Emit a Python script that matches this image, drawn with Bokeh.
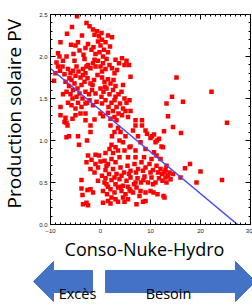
import math
from bokeh.plotting import figure
from bokeh.models import Range1d, LinearAxis, FixedTicker, NumeralTickFormatter
from bokeh.layouts import column, row
from bokeh.embed import file_html
from bokeh.resources import INLINE
from bokeh.core.properties import value

# ---------------- data ----------------
upper_pts = [
    (-4.7, 2.48), (-2.8, 2.40), (-2.2, 2.36), (-5.7, 2.35), (-6.7, 2.27), (-1.5, 2.32), (-0.7, 2.30),
    (-1.2, 2.26), (-0.3, 2.24), (0.2, 2.28), (2.3, 2.23), (-8.0, 2.17), (-4.5, 2.17), (-5.0, 2.13),
    (-5.9, 2.14), (-4.2, 2.07), (-5.4, 2.03), (-8.5, 2.04), (-8.2, 2.00), (-3.4, 2.02), (-1.8, 2.08),
    (-1.4, 2.11), (-1.0, 2.03), (0.0, 2.13), (0.7, 2.08), (1.0, 2.17), (-0.2, 2.05), (-2.5, 2.15),
    (-3.0, 2.10), (-0.5, 2.18), (0.5, 2.00), (1.5, 2.05), (3.0, 1.96), (3.7, 1.92), (4.3, 1.98),
    (4.8, 1.90), (5.2, 1.95), (5.7, 1.90), (6.0, 1.76), (-8.5, 1.88), (-7.6, 1.88), (-8.1, 1.83),
    (-7.2, 1.79), (-6.5, 1.85), (-6.0, 1.80), (-5.5, 1.83), (-5.0, 1.77), (-4.4, 1.82), (-4.0, 1.75),
    (-3.5, 1.85), (-3.0, 1.80), (-2.5, 1.90), (-2.0, 1.86), (-1.5, 1.92), (-1.0, 1.88), (-0.5, 1.95),
    (0.0, 1.88), (0.5, 1.92), (1.0, 1.85), (1.8, 1.90), (2.3, 1.86), (2.8, 1.80), (3.3, 1.84),
    (-7.0, 1.70), (-6.3, 1.65), (-5.8, 1.72), (-5.2, 1.68), (-4.6, 1.62), (-3.8, 1.66), (-3.2, 1.70),
    (-2.6, 1.74), (-2.0, 1.68), (-1.3, 1.72), (-0.6, 1.78), (0.3, 1.75), (0.8, 1.70), (1.5, 1.73),
    (2.0, 1.68), (2.6, 1.72), (-9.3, 1.71), (-6.8, 1.58), (-6.0, 1.55), (-5.5, 1.60), (-4.8, 1.52),
    (-4.2, 1.56), (-3.6, 1.50), (-3.0, 1.58), (-2.3, 1.55), (-1.7, 1.60), (-1.0, 1.56), (0.0, 1.62),
    (0.6, 1.58), (1.2, 1.62), (1.8, 1.55), (2.5, 1.60), (3.0, 1.52), (3.6, 1.55), (4.2, 1.58),
    (4.8, 1.50), (5.2, 1.45), (3.2, 1.40), (3.9, 1.44), (4.5, 1.38), (5.0, 1.35), (3.6, 1.32),
    (4.3, 1.30), (-8.0, 1.40), (-6.5, 1.45), (-5.8, 1.42), (-5.0, 1.38), (-4.5, 1.45), (-3.8, 1.40),
    (-3.0, 1.44), (-2.2, 1.48), (-1.5, 1.42), (-0.8, 1.46), (0.3, 1.44), (1.0, 1.48), (1.6, 1.40),
    (2.2, 1.45), (-8.0, 1.30), (-7.0, 1.27), (-6.8, 1.21), (-6.6, 1.18), (-7.2, 1.22), (-5.0, 1.30),
    (-4.0, 1.32), (-3.0, 1.32), (-3.0, 1.24), (-2.0, 1.18), (0.0, 1.32), (0.5, 1.29), (1.5, 1.33),
    (2.5, 1.35), (2.8, 1.28), (3.2, 1.24),
    (-5.2, 1.95), (-3.2, 1.97), (-1.2, 1.96), (1.2, 1.97), (-4.8, 1.88), (-2.8, 1.88), (0.3, 1.82),
    (-6.2, 1.74), (-3.5, 1.78), (-1.6, 1.66), (0.9, 1.64), (3.0, 1.65), (4.5, 1.66), (-5.6, 1.50),
    (-2.7, 1.45), (0.2, 1.52), (2.8, 1.48), (-7.5, 1.55), (-8.8, 1.93), (-9.0, 1.80), (-7.5, 1.95),
    (-6.8, 2.00), (0.3, 2.20), (1.5, 2.25), (-3.7, 2.25), (1.9, 2.12), (-5.6, 1.26), (-1.2, 1.25),
    (2.0, 1.26), (5.5, 1.28), (6.0, 1.35), (5.8, 1.48),
]

lower_pts = [
    (-6.8, 1.04), (-6.3, 1.05), (-4.5, 1.05), (-4.3, 0.95), (-2.7, 1.00), (-2.0, 1.10),
    (2.0, 1.18), (2.8, 1.10), (3.5, 1.15), (2.3, 1.05), (3.8, 1.00), (2.2, 0.95), (1.8, 0.90),
    (3.0, 0.92), (4.5, 0.98), (5.0, 1.05), (4.0, 1.10), (7.0, 1.18), (8.3, 1.18), (9.0, 1.12),
    (9.3, 1.08), (10.0, 1.03), (10.3, 1.05), (10.7, 1.07), (11.3, 1.00), (11.0, 0.98), (11.7, 1.02),
    (12.7, 1.11), (14.5, 1.16), (16.1, 1.09), (12.2, 0.93), (12.5, 0.92), (10.7, 0.86), (7.5, 1.05),
    (6.5, 1.12), (8.0, 0.98), (6.0, 0.93), (7.0, 0.88), (9.0, 0.90), (7.0, 1.24), (8.3, 1.24),
    (-2.5, 0.82), (-1.8, 0.77), (-2.8, 0.74), (-1.0, 0.83), (0.0, 0.75), (0.8, 0.76), (1.5, 0.72),
    (2.2, 0.78), (3.0, 0.74), (-2.0, 0.66), (-1.2, 0.62), (-0.5, 0.68), (0.3, 0.58), (1.0, 0.65),
    (1.7, 0.60), (2.5, 0.66), (3.2, 0.60), (4.0, 0.68), (4.7, 0.62), (5.4, 0.70), (6.0, 0.64),
    (6.8, 0.72), (7.5, 0.66), (8.2, 0.74), (9.0, 0.68), (9.8, 0.72), (10.5, 0.65), (11.2, 0.70),
    (12.0, 0.66), (12.8, 0.62), (13.5, 0.58), (-3.8, 0.53), (-0.5, 0.52), (0.8, 0.50), (1.5, 0.45),
    (2.2, 0.53), (3.0, 0.48), (3.8, 0.54), (4.5, 0.46), (5.2, 0.52), (6.0, 0.56), (6.7, 0.48),
    (7.4, 0.55), (8.1, 0.50), (8.8, 0.57), (9.5, 0.50), (10.2, 0.56), (11.0, 0.50), (11.7, 0.55),
    (12.4, 0.52), (13.2, 0.50), (14.0, 0.54), (13.0, 0.56), (12.3, 0.60),
    (-3.8, 0.43), (-2.6, 0.41), (-2.0, 0.42), (-1.5, 0.38), (-3.6, 0.35), (0.5, 0.40), (1.3, 0.36),
    (2.0, 0.42), (2.8, 0.38), (3.5, 0.44), (4.2, 0.40), (5.0, 0.36), (5.8, 0.42), (6.5, 0.38),
    (7.2, 0.44), (8.0, 0.40), (10.0, 0.40), (10.6, 0.38), (11.4, 0.36), (12.8, 0.32), (12.6, 0.34),
    (-3.5, 0.24), (-2.8, 0.26), (-2.5, 0.23), (0.5, 0.26), (1.5, 0.28), (2.0, 0.25), (3.0, 0.30),
    (3.5, 0.27), (4.5, 0.32), (5.5, 0.30), (7.2, 0.24), (8.5, 0.27), (9.0, 0.28),
    (13.0, 0.65), (13.8, 0.62), (14.5, 0.60), (12.0, 0.78), (11.2, 0.82), (13.2, 0.70),
    (1.2, 0.70), (2.8, 0.56), (4.2, 0.58), (5.7, 0.60), (7.1, 0.62), (8.5, 0.64), (10.0, 0.62),
    (11.5, 0.62), (4.0, 0.45), (5.5, 0.45), (7.0, 0.50), (8.6, 0.53), (10.5, 0.48), (1.0, 0.55),
    (-1.0, 0.72), (-0.3, 0.82), (1.0, 0.85), (2.5, 0.85), (3.8, 0.80), (5.5, 0.80), (7.0, 0.80),
    (8.7, 0.80), (10.2, 0.78), (4.8, 0.88), (5.8, 0.92), (3.5, 0.88), (1.2, 0.48), (6.0, 0.40),
    (9.0, 0.38), (2.2, 0.32), (4.8, 0.27), (7.8, 0.34),
]

outlier_pts = [
    (15.2, 1.75), (22.2, 1.58), (14.3, 1.52), (13.2, 1.44), (16.5, 1.46), (13.5, 1.29), (25.3, 1.21),
    (17.9, 0.72), (16.9, 0.67), (20.0, 0.63), (16.0, 0.56), (19.2, 0.50), (24.3, 0.53),
]

fit_x = [-10.0, 27.4]
fit_y = [1.857, 0.0]

x_ticks = [-10, 0, 10, 20, 30]
y_ticks = [0.0, 0.5, 1.0, 1.5, 2.0, 2.5]

x_label = "Conso-Nuke-Hydro"
y_label = "Production solaire PV"
arrow_labels = ["Excès", "Besoin"]

all_pts = upper_pts + lower_pts + outlier_pts
conso = [pt[0] for pt in all_pts]
pv = [pt[1] for pt in all_pts]

FONT = "Open Sans"


def bare(fig):
    fig.xgrid.visible = False
    fig.ygrid.visible = False
    fig.outline_line_color = None
    fig.border_fill_color = "white"
    fig.background_fill_color = "white"


# ---------------- y label strip ----------------
pL = figure(width=26, height=236, x_range=Range1d(0, 26), y_range=Range1d(236, 0),
            output_backend="svg", toolbar_location=None, min_border=0, title=None,
            x_axis_location=None, y_axis_location=None)
bare(pL)
pL.text(x=[13.5], y=[111.5], text=[y_label], angle=math.pi / 2, text_font=value(FONT),
        text_font_size="19px", text_align="center", text_baseline="middle", text_color="black")

# ---------------- main scatter ----------------
p = figure(width=226, height=236, x_range=Range1d(-10, 30), y_range=Range1d(0, 2.5),
           output_backend="svg", toolbar_location=None, title=None,
           min_border_left=24, min_border_right=2, min_border_top=14, min_border_bottom=12,
           x_axis_location=None, y_axis_location=None)
p.xgrid.visible = False
p.ygrid.visible = False
p.outline_line_color = "black"
p.outline_line_width = 1
p.background_fill_color = "white"
p.border_fill_color = "white"

xt = FixedTicker(ticks=x_ticks, minor_ticks=list(range(-10, 31)))
yt = FixedTicker(ticks=y_ticks, minor_ticks=[i / 10 for i in range(0, 26)])


def style_axis(ax, ticks, labels=True):
    ax.major_tick_in = 5
    ax.major_tick_out = 0
    ax.minor_tick_in = 2
    ax.minor_tick_out = 0
    ax.major_tick_line_color = "black"
    ax.minor_tick_line_color = "black"
    ax.axis_line_color = "black"
    ax.major_label_text_font = "Liberation Sans"
    ax.major_label_text_font_size = "6px"
    ax.major_label_text_color = "#222222"
    if labels:
        ax.major_label_standoff = 3
    else:
        ax.major_label_overrides = {t: "" for t in ticks}
        ax.major_label_standoff = 0


xb = LinearAxis(ticker=xt)
style_axis(xb, x_ticks)
xb.major_label_standoff = 4
p.add_layout(xb, "below")

yl = LinearAxis(ticker=yt, formatter=NumeralTickFormatter(format="0.0"))
style_axis(yl, y_ticks)
p.add_layout(yl, "left")

xa = LinearAxis(ticker=xt)
style_axis(xa, x_ticks, labels=False)
p.add_layout(xa, "above")

yr = LinearAxis(ticker=yt)
style_axis(yr, y_ticks, labels=False)
p.add_layout(yr, "right")

p.scatter(conso, pv, marker="square", size=4.5, fill_color="#ff0000", line_color=None)
p.line(fit_x, fit_y, line_color="#4a4af0", line_width=1.5)

# ---------------- x label + arrows strip (coordinates: page y, strip starts at 236) -------------
p2 = figure(width=252, height=71, x_range=Range1d(0, 252), y_range=Range1d(307, 236),
            output_backend="svg", toolbar_location=None, min_border=0, title=None,
            x_axis_location=None, y_axis_location=None)
bare(p2)

p2.text(x=[144], y=[248.5], text=[x_label], text_font=value(FONT), text_font_size="18px",
        text_align="center", text_baseline="alphabetic", text_color="black")

blue = "#4472c4"
p2.patch([33, 53, 53, 92, 92, 53, 53], [281, 261, 270, 270, 292, 292, 301],
         fill_color=blue, line_color=blue)
p2.patch([105, 235, 235, 255, 235, 235, 105], [270, 270, 261, 281, 301, 292, 292],
         fill_color=blue, line_color=blue)
p2.text(x=[77, 168], y=[293, 293], text=arrow_labels, text_font=value(FONT),
        text_font_size="14.5px", text_align="center", text_baseline="alphabetic",
        text_color="black")

layout = column(row(pL, p, spacing=0), p2, spacing=0)
open("out.html", "w").write(file_html(layout, INLINE))
